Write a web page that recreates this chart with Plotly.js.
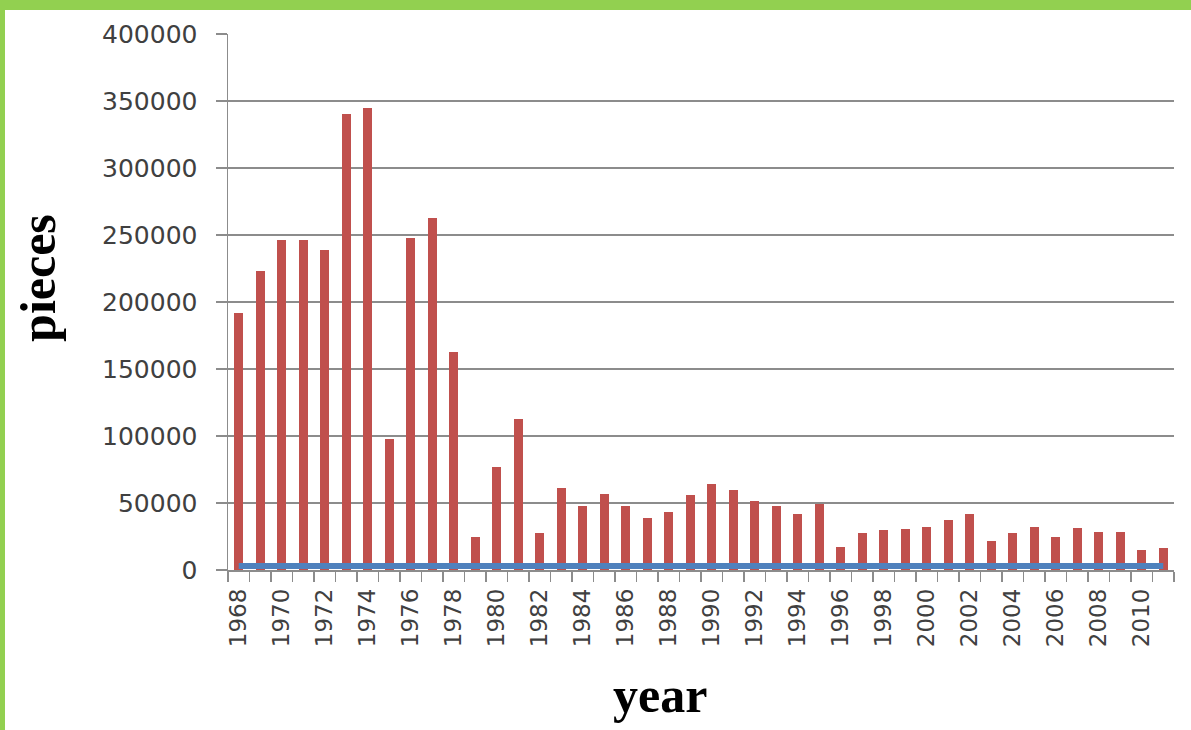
<!DOCTYPE html>
<html>
<head>
<meta charset="utf-8">
<script src="https://cdn.plot.ly/plotly-3.0.1.min.js"></script>
<style>
  html, body { margin: 0; padding: 0; background: #ffffff; }
  #wrap { position: relative; width: 1191px; height: 730px; overflow: hidden; }
  #chart { position: absolute; left: 0; top: 0; width: 1191px; height: 730px; }
  .band { position: absolute; background: #92d050; z-index: 10; }
</style>
</head>
<body>
<div id="wrap">
  <div id="chart"></div>
  <div class="band" style="left:0;top:0;width:1191px;height:10px;"></div>
  <div class="band" style="left:0;top:0;width:5px;height:730px;"></div>
</div>
<script>
const years = [1968,1969,1970,1971,1972,1973,1974,1975,1976,1977,1978,1979,
  1980,1981,1982,1983,1984,1985,1986,1987,1988,1989,
  1990,1991,1992,1993,1994,1995,1996,1997,1998,1999,
  2000,2001,2002,2003,2004,2005,2006,2007,2008,2009,
  2010,2011];
const pieces = [192000,223000,246500,246500,238500,340500,344500,97500,247500,263000,163000,24500,
  77000,112500,27500,61000,48000,56500,48000,38500,43500,56000,
  64000,59500,51500,48000,41500,49000,16800,27500,30000,30500,
  32000,37500,42000,22000,27500,32000,24500,31500,28700,28000,
  14600,16300];
const baseSeries = [3000,3000,3000,3000,3000,3000,3000,3000,3000,3000,3000,3000,
  3000,3000,3000,3000,3000,3000,3000,3000,3000,3000,
  3000,3000,3000,3000,3000,3000,3000,3000,3000,3000,
  3000,3000,3000,3000,3000,3000,3000,3000,3000,3000,
  3000,3000];
const tickYears = [1968,1970,1972,1974,1976,1978,1980,1982,1984,1986,1988,1990,
  1992,1994,1996,1998,2000,2002,2004,2006,2008,2010];
const tickText = tickYears.map(String);
const yTicks = [0,50000,100000,150000,200000,250000,300000,350000,400000];
const yTickText = yTicks.map(String);

const traces = [
  {
    type: 'bar', x: years, y: pieces, width: 0.43,
    marker: { color: '#c0504d' }, name: 'pieces', hoverinfo: 'x+y'
  },
  {
    type: 'scatter', mode: 'lines', x: years, y: baseSeries,
    line: { color: '#4f81bd', width: 6 }, name: 'base', hoverinfo: 'skip'
  }
];

const layout = {
  width: 1191, height: 730,
  margin: { l: 228, r: 17, t: 34, b: 160 },
  paper_bgcolor: '#ffffff', plot_bgcolor: '#ffffff',
  showlegend: false,
  bargap: 0,
  xaxis: {
    type: 'linear',
    range: [1967.5, 2011.5],
    tickmode: 'array', tickvals: tickYears, ticktext: tickText,
    tickangle: -90,
    ticks: '', ticklabelstandoff: 8,
    tickfont: { family: 'DejaVu Sans', size: 23, color: '#404040' },
    showgrid: false, zeroline: false,
    showline: true, linecolor: '#8c8c8c', linewidth: 1.5,
    minor: { tickmode: 'linear', tick0: 1967.5, dtick: 1, ticks: 'outside', ticklen: 10, tickcolor: '#8c8c8c', tickwidth: 1.5, showgrid: false }
  },
  yaxis: {
    range: [0, 400000],
    tickmode: 'array', tickvals: yTicks, ticktext: yTickText,
    ticks: 'outside', ticklen: 11, tickcolor: '#8c8c8c', tickwidth: 1.5,
    ticklabelstandoff: 13,
    tickfont: { family: 'DejaVu Sans', size: 25, color: '#404040' },
    showgrid: true, gridcolor: '#8c8c8c', gridwidth: 1.5,
    zeroline: false,
    showline: true, linecolor: '#8c8c8c', linewidth: 1.5
  },
  annotations: [
    {
      text: '<b>pieces</b>', textangle: -90,
      xref: 'paper', yref: 'paper', x: -0.2008, y: 0.545,
      xanchor: 'center', yanchor: 'middle', showarrow: false,
      font: { family: 'Liberation Serif', size: 50, color: '#000000' }
    },
    {
      text: '<b>year</b>',
      xref: 'paper', yref: 'paper', x: 0.4567, y: -0.233,
      xanchor: 'center', yanchor: 'middle', showarrow: false,
      font: { family: 'Liberation Serif', size: 50, color: '#000000' }
    }
  ]
};

Plotly.newPlot('chart', traces, layout, { displayModeBar: false, staticPlot: true });
</script>
</body>
</html>
